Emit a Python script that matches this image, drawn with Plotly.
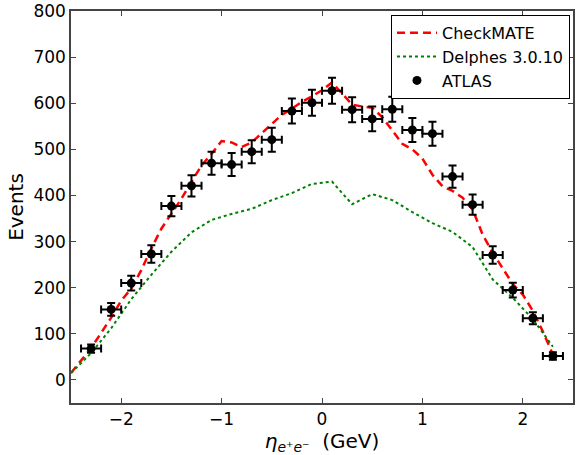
import plotly.graph_objects as go

# ATLAS data (bin centers, events, errors)
atlas_x = [-2.3, -2.1, -1.9, -1.7, -1.5, -1.3, -1.1, -0.9, -0.7, -0.5, -0.3, -0.1,
           0.1, 0.3, 0.5, 0.7, 0.9, 1.1, 1.3, 1.5, 1.7, 1.9, 2.1, 2.3]
atlas_y = [68, 153, 210, 273, 377, 421, 470, 467, 495, 521, 583, 601,
           627, 586, 566, 587, 542, 534, 441, 380, 271, 195, 134, 52]
atlas_yerr = [9, 14, 16, 19, 22, 23, 25, 25, 25, 26, 27, 28,
              28, 27, 27, 27, 26, 26, 24, 22, 19, 16, 13, 8]
atlas_xerr = [0.1] * 24

# CheckMATE curve
cm_x = [-2.5, -2.4, -2.3, -2.2, -2.1, -2.0, -1.9, -1.8, -1.7, -1.6, -1.5, -1.4, -1.3,
        -1.2, -1.1, -1.0, -0.9, -0.8, -0.7, -0.6, -0.5, -0.4, -0.3, -0.2, -0.1, 0.0,
        0.1, 0.2, 0.3, 0.4, 0.5, 0.6, 0.7, 0.8, 0.9, 1.0, 1.1, 1.2, 1.3, 1.4, 1.5,
        1.6, 1.7, 1.8, 1.9, 2.0, 2.1, 2.2, 2.3]
cm_y = [15, 42, 69, 102, 135, 172, 198, 238, 285, 328, 360, 393, 430,
        465, 490, 518, 515, 505, 515, 535, 557, 575, 588, 603, 615, 628,
        645, 620, 597, 593, 590, 570, 540, 512, 500, 480, 445, 420, 410, 395, 370,
        315, 276, 242, 208, 185, 150, 105, 55]

# Delphes curve
de_x = [-2.5, -2.3, -2.1, -1.9, -1.7, -1.5, -1.3, -1.1, -0.9, -0.7, -0.5, -0.3, -0.1,
        0.1, 0.3, 0.5, 0.7, 0.9, 1.1, 1.3, 1.5, 1.7, 1.9, 2.1, 2.3]
de_y = [15, 58, 112, 175, 228, 278, 320, 347, 360, 371, 390, 405, 425,
        430, 381, 403, 390, 364, 340, 321, 288, 218, 178, 132, 72]

fig = go.Figure()
fig.add_trace(go.Scatter(x=cm_x, y=cm_y, mode="lines", name="CheckMATE",
                         line=dict(color="red", width=2.5, dash="8px,5px")))
fig.add_trace(go.Scatter(x=de_x, y=de_y, mode="lines", name="Delphes 3.0.10",
                         line=dict(color="#008000", width=2, dash="dot")))
fig.add_trace(go.Scatter(x=atlas_x, y=atlas_y, mode="markers", name="ATLAS",
                         marker=dict(color="black", size=9),
                         error_y=dict(type="data", array=atlas_yerr, color="black",
                                      thickness=2, width=4),
                         error_x=dict(type="data", array=atlas_xerr, color="black",
                                      thickness=2, width=4)))

axis_common = dict(showline=True, linecolor="#444", linewidth=1.5, mirror="ticks",
                   ticks="inside", ticklen=5, tickcolor="#444", showgrid=False,
                   zeroline=False, tickfont=dict(family="DejaVu Sans", size=17, color="black"))

fig.update_layout(
    width=576, height=455,
    margin=dict(l=71, r=1, t=11, b=52),
    paper_bgcolor="white", plot_bgcolor="white",
    font=dict(family="DejaVu Sans", color="black"),
    xaxis=dict(range=[-2.5, 2.5], tickvals=[-2, -1, 0, 1, 2],
               title=dict(text="<i>η</i><sub><i>e</i>⁺<i>e</i>⁻</sub>  (GeV)",
                          font=dict(size=20), standoff=6),
               **axis_common),
    yaxis=dict(range=[-50, 800], tickvals=[0, 100, 200, 300, 400, 500, 600, 700, 800],
               title=dict(text="Events", font=dict(size=20), standoff=4),
               **axis_common),
    legend=dict(x=0.994, y=0.99, xanchor="right", yanchor="top",
                bordercolor="black", borderwidth=1, bgcolor="white",
                font=dict(size=16, family="DejaVu Sans"), tracegroupgap=0,
                itemwidth=40),
    showlegend=True,
)

fig.write_html("out.html")
